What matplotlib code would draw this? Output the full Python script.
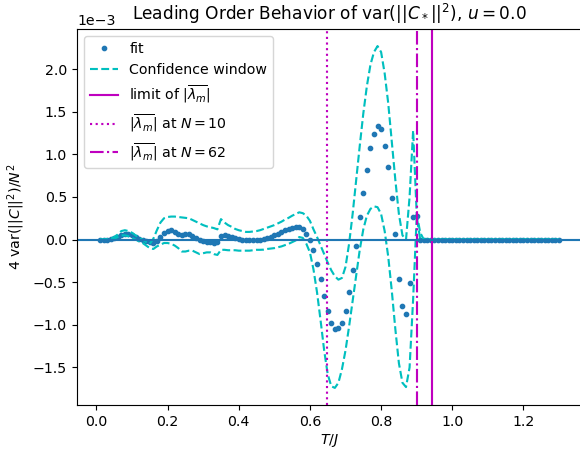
import numpy as np
import matplotlib
matplotlib.use('Agg')
import matplotlib.pyplot as plt

# T/J grid (step 0.01)
T = np.round(np.arange(1, 131) * 0.01, 2)

# fit values, in units of 1e-3
fit_e3 = [
    0.0, 0.0, 0.0, 0.005, 0.015, 0.035, 0.055, 0.07, 0.07, 0.05,
    0.03, 0.01, -0.005, -0.02, -0.03, -0.035, -0.02, 0.03, 0.075, 0.10,
    0.11, 0.09, 0.07, 0.055, 0.065, 0.06, 0.04, 0.02, 0.0, -0.015,
    -0.025, -0.03, -0.035, -0.03, 0.04, 0.05, 0.045, 0.035, 0.02, 0.01,
    0.0, -0.005, -0.01, -0.01, -0.005, 0.0, 0.01, 0.02, 0.035, 0.05,
    0.07, 0.09, 0.11, 0.125, 0.135, 0.145, 0.15, 0.13, 0.07, 0.0,
    -0.126, -0.283, -0.464, -0.66, -0.841, -0.978, -1.049, -1.04, -0.974, -0.833,
    -0.617, -0.354, -0.079, 0.266, 0.549, 0.813, 1.072, 1.244, 1.327, 1.296,
    1.099, 0.848, 0.483, 0.07, -0.46, -0.774, -0.872, -0.507, 0.266, 0.28,
] + [0.0] * 40

# upper edge of confidence window, 1e-3
upper_e3 = [
    0.0, 0.0, 0.005, 0.01, 0.03, 0.06, 0.10, 0.11, 0.10, 0.08,
    0.05, 0.02, 0.0, -0.03, -0.05, 0.01, 0.11, 0.20, 0.25, 0.265,
    0.27, 0.27, 0.265, 0.26, 0.255, 0.25, 0.23, 0.21, 0.19, 0.17,
    0.155, 0.145, 0.135, 0.12, 0.24, 0.20, 0.17, 0.15, 0.125, 0.11,
    0.10, 0.09, 0.09, 0.095, 0.10, 0.11, 0.125, 0.14, 0.155, 0.17,
    0.19, 0.21, 0.235, 0.255, 0.28, 0.30, 0.32, 0.31, 0.28, 0.22,
    0.12, 0.03, -0.07, -0.17, -0.27, -0.36, -0.43, -0.47, -0.45, -0.32,
    -0.05, 0.30, 0.70, 1.10, 1.48, 1.80, 2.05, 2.20, 2.27, 2.20,
    1.95, 1.60, 1.15, 0.70, 0.30, 0.05, 0.0, 0.50, 1.28, 0.30,
    0.08,
] + [0.0] * 39

# lower edge of confidence window, 1e-3
lower_e3 = [
    0.0, 0.0, 0.0, 0.0, 0.01, 0.03, 0.05, 0.05, 0.04, 0.02,
    0.0, -0.02, -0.04, -0.07, -0.10, -0.11, -0.08, -0.06, -0.04, -0.04,
    -0.05, -0.07, -0.10, -0.14, -0.14, -0.13, -0.13, -0.15, -0.17, -0.16,
    -0.15, -0.15, -0.17, -0.18, -0.12, -0.12, -0.125, -0.125, -0.125, -0.13,
    -0.13, -0.13, -0.13, -0.125, -0.12, -0.12, -0.118, -0.11, -0.105, -0.10,
    -0.09, -0.08, -0.065, -0.05, -0.03, -0.01, 0.03, 0.02, -0.05, -0.15,
    -0.35, -0.62, -0.95, -1.30, -1.58, -1.72, -1.74, -1.68, -1.52, -1.30,
    -1.02, -0.72, -0.42, -0.12, 0.12, 0.28, 0.36, 0.39, 0.38, 0.30,
    0.10, -0.20, -0.60, -1.05, -1.45, -1.68, -1.73, -1.50, -0.70, 0.27,
] + [0.0] * 40

# |lambda_m| positions
lam_limit = 0.942
lam_N10 = 0.649
lam_N62 = 0.902

fit = np.array(fit_e3) * 1e-3
upper = np.array(upper_e3) * 1e-3
lower = np.array(lower_e3) * 1e-3

# figure is 580x449 px
dpi = 102
fig = plt.figure(figsize=(580 / dpi, 449 / dpi), dpi=dpi)
ax = fig.add_axes([77 / 580, 44 / 449, 505 / 580, 376 / 449])

ax.plot(T, fit, '.', color='C0', label='fit')
ax.plot(T, upper, '--', color='c', label='Confidence window')
ax.plot(T, lower, '--', color='c')
ax.axvline(lam_limit, color='m', linestyle='-', label=r'limit of $|\overline{\lambda_m}|$')
ax.axvline(lam_N10, color='m', linestyle=':', label=r'$|\overline{\lambda_m}|$ at $N=10$')
ax.axvline(lam_N62, color='m', linestyle='-.', label=r'$|\overline{\lambda_m}|$ at $N=62$')
ax.axhline(0, color='C0')

ax.ticklabel_format(axis='y', style='sci', scilimits=(0, 0))
ax.set_title(r'Leading Order Behavior of var$(||C_*||^2)$, $u=0.0$')
ax.set_xlabel(r'$T/J$', labelpad=2)
ax.set_ylabel(r'4 var$(||C||^2)/N^2$')
ax.legend(loc='upper left')

fig.savefig('out.png', dpi=dpi)
